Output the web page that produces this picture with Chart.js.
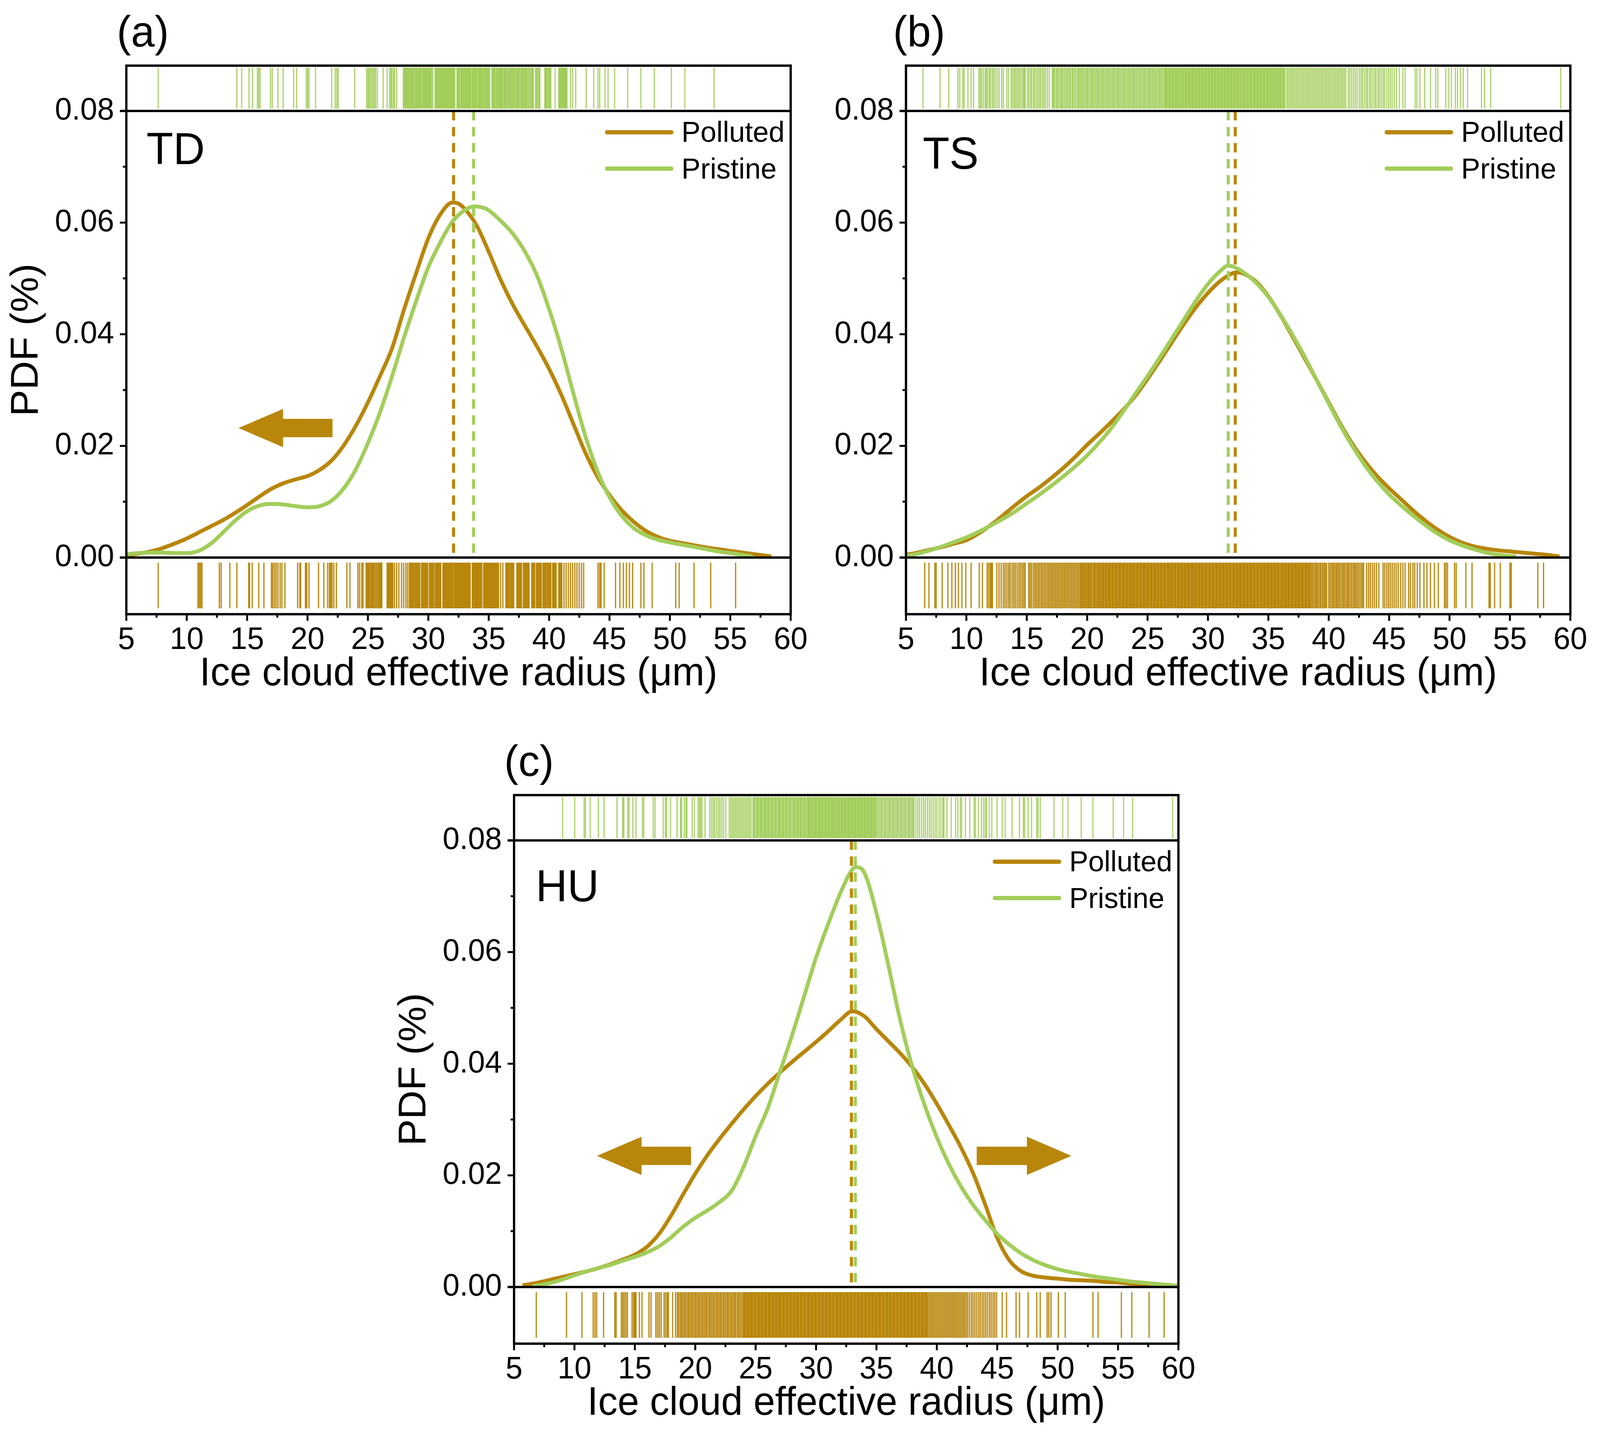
<!DOCTYPE html>
<html><head><meta charset="utf-8">
<script src="https://cdn.jsdelivr.net/npm/chart.js@4.4.0/dist/chart.umd.min.js"></script>
<style>
html,body{margin:0;padding:0;background:#fff;width:100%;height:100%;overflow:hidden;font-family:"Liberation Sans",Arial,sans-serif;}
#root{position:absolute;left:0;top:0;width:4205px;height:3683px;transform-origin:0 0;background:#fff;}
canvas{position:absolute;}
.t{position:absolute;line-height:1;white-space:nowrap;color:#000;z-index:5;}
.lg{position:absolute;height:11px;border-radius:6px;z-index:5;}
</style></head><body>
<div id="root"></div>
<script>
// ---------- tick labels ----------
const xTickValues = [5,10,15,20,25,30,35,40,45,50,55,60];
const xMinorValues = [7.5,12.5,17.5,22.5,27.5,32.5,37.5,42.5,47.5,52.5,57.5];
const yTickValues = [0,0.02,0.04,0.06,0.08];
const yMinorValues = [0.01,0.03,0.05,0.07];
const seriesNames = ['Polluted','Pristine'];
const panelLetters = ['(a)','(b)','(c)'];
const panelTags = ['TD','TS','HU'];

// ---------- (a) TD ----------
const tdPollutedX = [5,6,7,8,9,10,11,12,13,14,15,16,17,18,19,20,21,22,23,24,25,26,27,28,29,30,31,32,32.5,33,34,35,36,37,38,39,40,41,42,43,44,45,46,47,48,49,50,51,52,53,54,55,56,57,58.4];
const tdPollutedY = [0.0004,0.0007,0.0011,0.0017,0.0025,0.0034,0.0045,0.0056,0.0067,0.008,0.0094,0.0109,0.0123,0.0133,0.014,0.0146,0.0157,0.0174,0.0201,0.0236,0.0278,0.0325,0.0375,0.0445,0.051,0.0572,0.0615,0.0636,0.0634,0.0625,0.0595,0.0548,0.0497,0.0453,0.0415,0.0378,0.0338,0.0292,0.024,0.0188,0.0145,0.0112,0.0085,0.0064,0.0048,0.0037,0.003,0.0026,0.0022,0.0018,0.0015,0.0012,0.0009,0.0006,0.0002];
const tdPristineX = [5,6,7,8,9,10,11,12,13,14,15,16,17,18,19,20,21,22,23,24,25,26,27,28,29,30,31,32,33,33.8,34.5,35,36,37,38,39,40,41,42,43,44,45,46,47,48,49,50,51,52,53,54,55,56.8];
const tdPristineY = [0.0006,0.0008,0.0009,0.0009,0.0008,0.0008,0.0012,0.0025,0.0045,0.0066,0.0083,0.0093,0.0096,0.0095,0.0092,0.009,0.0092,0.0102,0.0124,0.0158,0.0205,0.026,0.0325,0.0395,0.046,0.052,0.0565,0.0602,0.0622,0.0629,0.0627,0.0622,0.0603,0.058,0.0548,0.0505,0.0445,0.0375,0.0295,0.0218,0.0155,0.0108,0.0075,0.0053,0.004,0.0032,0.0027,0.0023,0.0019,0.0015,0.0011,0.0008,0.0002];
const tdMeans = [32.09, 33.75];
const tdPristineRug = [7.64,14.15,14.55,15.16,15.45,15.85,15.96,16.07,16.93,17.08,17.55,17.98,18.85,19.1,19.9,20.01,20.12,20.66,22.0,22.29,22.43,22.54,23.91,24.89,25.0,25.1,25.2,25.32,25.43,25.54,25.65,25.79,26.26,26.59,26.8,26.9,27.0,27.13,27.2,27.38,27.93,28.02,28.1,28.16,28.25,28.33,28.4,28.49,28.57,28.66,28.72,28.8,28.9,28.98,29.05,29.13,29.22,29.3,29.37,29.45,29.55,29.62,29.7,29.78,29.86,29.95,30.03,30.1,30.18,30.27,30.38,30.56,30.62,30.68,30.73,30.8,30.86,30.91,30.97,31.03,31.09,31.14,31.2,31.26,31.32,31.38,31.44,31.5,31.55,31.61,31.67,31.73,31.79,31.85,31.9,31.96,32.02,32.08,32.14,32.19,32.37,32.45,32.53,32.6,32.7,32.78,32.85,32.94,33.02,33.1,33.18,33.27,33.35,33.43,33.5,33.6,33.68,33.76,33.85,33.93,34.0,34.1,34.18,34.26,34.35,34.43,34.5,34.6,34.68,34.76,34.85,34.93,35.0,35.08,35.26,35.35,35.44,35.52,35.62,35.7,35.8,35.88,35.97,36.06,36.15,36.25,36.33,36.42,36.52,36.6,36.7,36.78,36.88,36.96,37.05,37.15,37.23,37.33,37.42,37.5,37.6,37.7,37.78,37.88,37.97,38.06,38.15,38.25,38.35,38.45,38.55,38.62,38.7,38.88,38.95,39.05,39.15,39.24,39.64,39.72,39.8,39.9,40.0,40.07,40.14,40.5,40.8,40.88,40.95,41.03,41.1,41.18,41.26,41.33,41.4,41.48,41.77,41.95,42.2,43.07,43.69,44.05,44.19,44.63,44.88,45.42,46.51,47.6,48.71,50.12,51.24,53.66];
const tdPollutedRug = [7.64,10.93,11.04,11.15,11.26,12.7,12.85,13.57,14.15,15.13,15.2,15.42,15.96,16.39,17.01,17.12,17.26,17.4,17.55,17.73,17.88,18.13,19.18,19.36,19.43,19.83,19.93,20.12,20.91,21.35,21.67,21.82,21.92,22.03,22.18,22.39,23.26,23.51,24.17,24.31,24.49,24.6,24.85,24.95,25.05,25.15,25.26,25.36,25.46,25.57,25.68,25.79,25.9,26.0,26.08,26.15,26.59,26.68,26.78,26.87,26.97,27.06,27.2,27.38,27.56,27.78,27.96,28.14,28.29,28.43,28.52,28.61,28.7,28.79,28.9,29.0,29.1,29.2,29.3,29.44,29.53,29.62,29.71,29.8,29.88,29.95,30.09,30.18,30.27,30.36,30.45,30.57,30.67,30.76,30.85,30.94,31.03,31.21,31.3,31.39,31.48,31.57,31.66,31.75,31.84,31.93,32.01,32.12,32.21,32.3,32.39,32.48,32.57,32.66,32.75,32.84,32.93,33.02,33.11,33.2,33.29,33.38,33.46,33.64,33.73,33.82,33.91,34.0,34.09,34.18,34.27,34.35,34.43,34.58,34.67,34.76,34.85,34.93,35.01,35.08,35.17,35.26,35.35,35.44,35.53,35.62,35.71,35.81,35.99,36.17,36.42,36.52,36.62,36.71,36.82,36.9,36.98,37.07,37.33,37.42,37.52,37.62,37.72,37.87,37.97,38.07,38.17,38.26,38.34,38.56,38.65,38.73,38.81,38.95,39.05,39.15,39.25,39.35,39.49,39.59,39.69,39.78,39.89,39.98,40.06,40.14,40.29,40.39,40.49,40.58,40.8,40.9,40.98,41.05,41.23,41.41,41.59,41.77,41.95,42.13,42.31,42.49,42.68,42.86,44.05,44.19,44.3,44.56,45.5,45.86,46.15,46.4,46.65,46.91,47.6,47.85,48.53,50.48,50.77,52.0,53.38,55.44];

// ---------- (b) TS ----------
const tsPollutedX = [5,6,7,8,9,10,11,12,13,14,15,16,17,18,19,20,21,22,23,24,25,26,27,28,29,30,31,32,32.5,33,34,35,36,37,38,39,40,41,42,43,44,45,46,47,48,49,50,51,52,53,54,55,56,57,58,59.1];
const tsPollutedY = [0.0005,0.0009,0.0014,0.0019,0.0025,0.0031,0.0043,0.0058,0.0075,0.0093,0.011,0.0125,0.0142,0.016,0.018,0.0202,0.0222,0.0243,0.0265,0.029,0.032,0.0352,0.0385,0.0418,0.0448,0.0474,0.0495,0.0509,0.0511,0.0508,0.0494,0.0468,0.0434,0.0396,0.0357,0.0318,0.0278,0.0238,0.0202,0.0172,0.0146,0.0124,0.0104,0.0084,0.0066,0.005,0.0037,0.0027,0.002,0.0016,0.0013,0.0011,0.0009,0.0007,0.0005,0.0002];
const tsPristineX = [5,6,7,8,9,10,11,12,13,14,15,16,17,18,19,20,21,22,23,24,25,26,27,28,29,30,31,31.7,32.5,33,34,35,36,37,38,39,40,41,42,43,44,45,46,47,48,49,50,51,52,53,54,55.5];
const tsPristineY = [0.0003,0.0007,0.0013,0.002,0.0028,0.0036,0.0046,0.0057,0.0069,0.0082,0.0097,0.0112,0.0128,0.0145,0.0163,0.0183,0.0206,0.0232,0.0262,0.0294,0.0325,0.0358,0.0392,0.0426,0.046,0.049,0.0513,0.0523,0.0517,0.051,0.0492,0.0467,0.0435,0.0399,0.036,0.0318,0.0276,0.0235,0.0198,0.0165,0.0137,0.0113,0.0093,0.0075,0.0058,0.0043,0.0031,0.0022,0.0015,0.0009,0.0005,0.0002];
const tsMeans = [32.26, 31.68];
const tsPristineRug = [6.41,7.82,8.54,9.3,9.45,9.7,9.81,10.13,10.39,10.6,11.04,11.15,11.26,11.4,11.55,11.65,11.76,11.9,12.0,12.15,12.26,12.4,12.55,12.7,12.92,13.06,13.35,13.5,13.71,13.82,13.95,14.05,14.18,14.3,14.42,14.55,14.68,14.78,14.87,15.05,15.17,15.3,15.41,15.55,15.66,15.8,15.92,16.05,16.16,16.3,16.42,16.55,16.7,16.86,17.11,17.2,17.3,17.42,17.52,17.63,17.75,17.86,17.95,18.07,18.18,18.3,18.4,18.52,18.62,18.75,18.85,18.97,19.08,19.21,19.3,19.41,19.52,19.62,19.73,19.84,19.95,20.05,20.16,20.27,20.38,20.48,20.59,20.7,20.81,20.91,21.02,21.13,21.24,21.34,21.45,21.56,21.67,21.77,21.88,21.99,22.1,22.2,22.31,22.42,22.53,22.63,22.74,22.85,22.96,23.06,23.17,23.28,23.39,23.49,23.6,23.71,23.82,23.92,24.03,24.14,24.25,24.35,24.46,24.57,24.68,24.78,24.89,25.0,25.11,25.21,25.32,25.43,25.54,25.64,25.75,25.86,25.97,26.07,26.18,26.29,26.4,26.47,26.55,26.64,26.74,26.82,26.91,27.01,27.09,27.18,27.28,27.36,27.45,27.55,27.63,27.72,27.82,27.9,27.99,28.09,28.17,28.26,28.36,28.44,28.53,28.63,28.71,28.8,28.9,28.98,29.07,29.17,29.25,29.34,29.44,29.52,29.61,29.71,29.79,29.88,29.98,30.06,30.15,30.25,30.33,30.42,30.52,30.6,30.69,30.79,30.87,30.96,31.06,31.14,31.23,31.33,31.41,31.5,31.6,31.68,31.77,31.87,31.95,32.04,32.14,32.22,32.31,32.41,32.49,32.58,32.68,32.76,32.85,32.95,33.03,33.12,33.22,33.3,33.39,33.49,33.57,33.66,33.76,33.84,33.93,34.03,34.11,34.2,34.3,34.38,34.47,34.57,34.65,34.74,34.84,34.92,35.01,35.11,35.19,35.28,35.38,35.46,35.55,35.65,35.73,35.82,35.92,36.0,36.09,36.19,36.27,36.36,36.5,36.62,36.74,36.86,36.98,37.1,37.22,37.34,37.46,37.58,37.7,37.82,37.94,38.06,38.18,38.3,38.42,38.54,38.66,38.78,38.9,39.02,39.14,39.26,39.38,39.5,39.62,39.74,39.86,39.98,40.1,40.22,40.34,40.46,40.58,40.7,40.82,40.94,41.06,41.18,41.3,41.42,41.62,41.75,41.9,42.05,42.2,42.35,42.53,42.68,42.8,42.95,43.1,43.22,43.38,43.5,43.65,43.8,43.92,44.08,44.2,44.35,44.5,44.62,44.8,44.95,45.1,45.25,45.42,45.6,45.85,46.14,46.32,47.15,47.3,47.55,47.95,48.42,48.85,49.03,49.69,49.94,50.16,50.48,50.66,50.92,51.13,51.49,52.65,52.9,53.41,59.2];
const tsPollutedRug = [6.55,6.9,7.39,7.5,8.0,8.47,8.8,9.09,9.34,9.63,9.95,10.39,11.07,11.33,11.72,11.85,11.98,12.08,12.16,12.52,12.7,12.88,13.06,13.2,13.35,13.5,13.62,13.78,13.92,14.05,14.2,14.35,14.48,14.62,14.75,14.87,15.16,15.28,15.4,15.55,15.68,15.8,15.93,16.05,16.18,16.3,16.43,16.55,16.68,16.8,16.92,17.04,17.16,17.28,17.4,17.52,17.64,17.76,17.88,18.0,18.12,18.24,18.36,18.48,18.6,18.72,18.84,18.96,19.08,19.2,19.32,19.44,19.53,19.62,19.73,19.81,19.92,20.03,20.11,20.2,20.31,20.4,20.52,20.6,20.69,20.8,20.91,20.99,21.08,21.19,21.28,21.37,21.48,21.57,21.66,21.77,21.86,21.95,22.06,22.14,22.23,22.34,22.43,22.52,22.63,22.71,22.8,22.91,23.0,23.09,23.2,23.28,23.37,23.48,23.57,23.66,23.77,23.85,23.94,24.05,24.14,24.23,24.34,24.42,24.51,24.62,24.71,24.8,24.91,24.99,25.08,25.19,25.28,25.37,25.48,25.56,25.65,25.76,25.85,25.94,26.05,26.13,26.22,26.33,26.42,26.51,26.62,26.7,26.79,26.9,26.99,27.08,27.19,27.27,27.36,27.47,27.56,27.65,27.76,27.84,27.93,28.04,28.13,28.22,28.33,28.41,28.5,28.61,28.7,28.79,28.9,28.98,29.07,29.18,29.27,29.36,29.47,29.55,29.64,29.75,29.84,29.93,30.04,30.12,30.21,30.32,30.41,30.5,30.61,30.69,30.78,30.89,30.98,31.07,31.18,31.26,31.35,31.46,31.55,31.64,31.75,31.83,31.92,32.03,32.12,32.21,32.32,32.4,32.49,32.6,32.69,32.78,32.89,32.97,33.06,33.17,33.26,33.35,33.46,33.54,33.63,33.74,33.83,33.92,34.03,34.11,34.2,34.31,34.4,34.49,34.6,34.68,34.77,34.88,34.97,35.06,35.17,35.25,35.34,35.45,35.54,35.63,35.74,35.82,35.91,36.02,36.11,36.2,36.31,36.39,36.48,36.59,36.68,36.77,36.88,36.96,37.05,37.16,37.25,37.34,37.45,37.53,37.62,37.73,37.82,37.91,38.02,38.1,38.19,38.3,38.37,38.44,38.55,38.66,38.78,38.9,39.01,39.12,39.25,39.36,39.48,39.6,39.71,39.82,40.0,40.12,40.25,40.36,40.48,40.6,40.71,40.83,40.95,41.08,41.2,41.31,41.44,41.56,41.67,41.8,41.92,42.05,42.16,42.28,42.4,42.53,42.66,42.78,42.89,43.14,43.3,43.45,43.62,43.78,43.95,44.15,44.5,44.64,44.8,44.95,45.1,45.26,45.42,45.58,45.75,45.96,46.14,46.32,46.61,46.76,46.97,47.12,47.33,47.55,47.88,48.13,48.42,48.75,49.07,49.58,49.7,49.83,50.41,50.55,51.35,51.86,53.27,53.37,53.73,54.2,55.0,55.11,57.31,57.78];

// ---------- (c) HU ----------
const huPollutedX = [5.7,7,8,9,10,11,12,13,14,15,16,17,18,19,20,21,22,23,24,25,26,27,28,29,30,31,32,33,34,35,36,37,38,39,40,41,42,43,44,45,46,47,48,49,50,51,52,53,54,55,56,57,58,60];
const huPollutedY = [0.0003,0.0008,0.0013,0.0018,0.0023,0.0028,0.0034,0.0041,0.0049,0.0058,0.0072,0.0095,0.0128,0.0166,0.0203,0.0236,0.0265,0.0292,0.0318,0.0342,0.0364,0.0384,0.0403,0.0421,0.0439,0.0458,0.0478,0.0494,0.0485,0.0462,0.044,0.0418,0.0393,0.0363,0.0328,0.029,0.025,0.0204,0.0148,0.0088,0.0048,0.0028,0.002,0.0017,0.0015,0.0013,0.0012,0.0011,0.0009,0.0008,0.0006,0.0004,0.0003,0.0001];
const huPristineX = [6.5,7.5,8.5,10,11,12,13,14,15,16,17,18,19,20,21,22,23,24,25,26,27,28,29,30,31,32,33,33.3,34,35,36,37,38,39,40,41,42,43,44,45,46,47,48,49,50,51,52,53,54,55,56,57,58,59,60];
const huPristineY = [0.0001,0.0005,0.001,0.0021,0.0028,0.0034,0.004,0.0047,0.0054,0.0062,0.0073,0.0089,0.0108,0.0124,0.0137,0.0152,0.0172,0.0215,0.027,0.032,0.0385,0.045,0.052,0.059,0.065,0.0705,0.0748,0.0752,0.0742,0.067,0.0575,0.0475,0.0392,0.0325,0.0268,0.022,0.018,0.0147,0.012,0.0095,0.0076,0.006,0.0048,0.0039,0.0032,0.0027,0.0023,0.0019,0.0016,0.0013,0.001,0.0008,0.0006,0.0004,0.0002];
const huMeans = [32.93, 33.25];
const huPristineRug = [9.02,10.02,10.8,10.91,11.3,11.98,12.45,13.52,13.99,14.09,14.41,14.52,14.84,15.09,15.63,15.74,16.52,16.67,17.35,17.53,17.63,17.95,18.49,18.78,18.88,19.1,19.24,19.31,19.74,19.92,20.24,20.35,20.45,20.56,20.81,21.21,21.36,21.5,21.62,21.78,21.92,22.05,22.2,22.35,22.53,22.82,22.94,23.06,23.18,23.3,23.42,23.54,23.66,23.78,23.9,24.02,24.14,24.26,24.38,24.5,24.62,24.78,24.87,24.97,25.08,25.17,25.27,25.38,25.47,25.57,25.68,25.77,25.87,25.98,26.07,26.17,26.28,26.37,26.47,26.58,26.67,26.77,26.88,26.97,27.07,27.18,27.27,27.37,27.48,27.57,27.67,27.78,27.87,27.97,28.08,28.17,28.27,28.38,28.47,28.57,28.68,28.77,28.87,28.98,29.07,29.17,29.28,29.36,29.44,29.53,29.63,29.71,29.8,29.9,29.98,30.07,30.17,30.25,30.34,30.44,30.52,30.61,30.71,30.79,30.88,30.98,31.06,31.15,31.25,31.33,31.42,31.52,31.6,31.69,31.79,31.87,31.96,32.06,32.14,32.23,32.33,32.41,32.5,32.6,32.68,32.77,32.87,32.95,33.04,33.14,33.22,33.31,33.41,33.49,33.58,33.68,33.76,33.85,33.95,34.03,34.12,34.22,34.3,34.39,34.49,34.57,34.66,34.76,34.84,34.93,35.03,35.14,35.26,35.37,35.47,35.59,35.7,35.8,35.92,36.03,36.13,36.25,36.36,36.46,36.58,36.69,36.79,36.91,37.02,37.12,37.24,37.35,37.45,37.57,37.68,37.78,37.9,38.01,38.1,38.26,38.42,38.57,38.74,38.9,39.05,39.22,39.38,39.53,39.7,39.86,40.01,40.18,40.34,40.5,40.59,40.84,41.19,41.55,41.73,41.94,42.05,42.37,42.73,43.09,43.2,43.45,43.7,43.88,44.02,44.13,44.34,44.55,44.98,45.41,45.66,46.23,46.84,47.16,47.27,47.56,47.84,48.27,48.38,48.56,49.7,50.42,50.85,51.95,52.92,54.6,55.46,56.21,59.53];
const huPollutedRug = [6.84,9.34,10.62,11.55,11.7,11.84,12.41,13.34,13.45,13.88,14.0,14.12,14.25,14.38,14.77,14.9,15.0,15.09,15.38,15.59,16.17,16.34,16.74,16.88,17.02,17.17,17.42,17.55,17.68,17.78,18.13,18.38,18.53,18.64,18.77,18.88,19.0,19.12,19.23,19.36,19.47,19.59,19.71,19.82,19.95,20.06,20.18,20.3,20.41,20.54,20.65,20.77,20.89,21.0,21.13,21.24,21.36,21.48,21.59,21.72,21.83,21.95,22.07,22.18,22.31,22.42,22.54,22.66,22.77,22.9,23.01,23.13,23.25,23.36,23.49,23.6,23.72,23.84,23.96,24.05,24.15,24.26,24.35,24.44,24.55,24.64,24.74,24.85,24.94,25.03,25.14,25.23,25.33,25.44,25.53,25.62,25.73,25.82,25.92,26.03,26.12,26.21,26.32,26.41,26.51,26.62,26.71,26.8,26.91,27.0,27.1,27.21,27.3,27.39,27.5,27.59,27.69,27.8,27.89,27.98,28.09,28.18,28.28,28.39,28.48,28.57,28.68,28.77,28.87,28.98,29.07,29.16,29.27,29.36,29.46,29.57,29.66,29.75,29.86,29.95,30.05,30.16,30.25,30.34,30.45,30.54,30.64,30.75,30.84,30.93,31.04,31.13,31.23,31.34,31.43,31.52,31.63,31.72,31.82,31.93,32.02,32.11,32.22,32.31,32.41,32.52,32.61,32.7,32.81,32.9,33.0,33.11,33.2,33.29,33.4,33.49,33.59,33.7,33.79,33.88,33.99,34.08,34.18,34.29,34.38,34.47,34.58,34.67,34.77,34.88,34.97,35.06,35.17,35.26,35.36,35.47,35.56,35.65,35.76,35.85,35.95,36.06,36.15,36.24,36.35,36.44,36.54,36.65,36.74,36.83,36.94,37.03,37.13,37.24,37.33,37.42,37.53,37.62,37.72,37.83,37.92,38.01,38.12,38.21,38.31,38.42,38.51,38.6,38.71,38.8,38.9,39.01,39.1,39.19,39.3,39.42,39.54,39.66,39.78,39.9,40.02,40.14,40.26,40.38,40.5,40.62,40.74,40.86,40.98,41.1,41.22,41.34,41.46,41.58,41.7,41.82,41.94,42.06,42.18,42.3,42.42,42.55,42.7,42.86,43.0,43.15,43.3,43.46,43.6,43.76,43.9,44.05,44.2,44.36,44.5,44.66,44.8,44.95,45.41,45.77,46.56,46.84,47.56,48.27,48.56,49.13,49.27,49.45,50.06,50.63,52.92,53.35,55.28,56.14,57.57,58.82];

// arrows: [tail x, tip x, y]
const tdArrows = [[22.07, 14.29, 0.0232]];
const tsArrows = [];
const huArrows = [[19.65, 11.87, 0.0235], [43.3, 51.14, 0.0235]];

// ---------- styling / layout ----------
const POL = '#B8860B', PRI = '#A2CD5A';
const FONT = '"Liberation Sans", Arial, sans-serif';
const PAGE_W = 4205, PAGE_H = 3683;
const CW = 2200, CH = 1800;
const PAD_TOP = 168, PAD_RIGHT = 122, YAXIS_W = 332, XAXIS_H = 228;
const Y_MIN = -0.010149, Y_MAX = 0.088119;
const RUG_TOP = [0.08042, 0.08777], RUG_BOT = [-0.00091, -0.0091];

const root = document.getElementById('root');
(function fit() {
  const vw = window.innerWidth || PAGE_W, vh = window.innerHeight || PAGE_H;
  const sx = vw / PAGE_W, sy = vh / PAGE_H;
  if (Math.abs(sx - 1) > 0.002 || Math.abs(sy - 1) > 0.002) {
    root.style.transform = 'scale(' + sx + ',' + sy + ')';
  }
})();

function xy(xs, ys) { return xs.map((x, i) => ({x: x, y: ys[i]})); }
function rug(vals, lo, hi) {
  const out = [];
  vals.forEach(v => { out.push({x: v, y: lo}, {x: v, y: hi}, {x: v, y: null}); });
  return out;
}
function meanLine(m) { return [{x: m, y: 0.08}, {x: m, y: 0}]; }

const panels = [
  {left: 0, top: 0, letter: panelLetters[0], letterPos: [307, 25], tag: panelTags[0], tagPos: [385, 323], yTitle: true,
   pol: xy(tdPollutedX, tdPollutedY), pri: xy(tdPristineX, tdPristineY), means: tdMeans, polRug: tdPollutedRug, priRug: tdPristineRug, arrows: tdArrows},
  {left: 2049, top: 0, letter: panelLetters[1], letterPos: [2347, 25], tag: panelTags[1], tagPos: [2425, 335], yTitle: false,
   pol: xy(tsPollutedX, tsPollutedY), pri: xy(tsPristineX, tsPristineY), means: tsMeans, polRug: tsPollutedRug, priRug: tsPristineRug, arrows: tsArrows},
  {left: 1019, top: 1867, letter: panelLetters[2], letterPos: [1325, 1892], tag: panelTags[2], tagPos: [1408, 2210], yTitle: true,
   pol: xy(huPollutedX, huPollutedY), pri: xy(huPristineX, huPristineY), means: huMeans, polRug: huPollutedRug, priRug: huPristineRug, arrows: huArrows}
];

function addText(txt, x, y, size) {
  const d = document.createElement('div');
  d.className = 't'; d.textContent = txt;
  d.style.left = x + 'px'; d.style.top = y + 'px'; d.style.fontSize = size + 'px';
  root.appendChild(d);
}
function addLegendLine(x, yc, color) {
  const d = document.createElement('div');
  d.className = 'lg';
  d.style.left = x + 'px'; d.style.top = (yc - 5.5) + 'px'; d.style.width = '180px'; d.style.background = color;
  root.appendChild(d);
}

function framePlugin(p) {
  return {
    id: 'frame',
    afterDatasetsDraw(chart) {
      const {ctx, chartArea: a, scales: {x, y}} = chart;
      ctx.save();
      ctx.fillStyle = POL;
      p.arrows.forEach(ar => {
        const tail = x.getPixelForValue(ar[0]), tip = x.getPixelForValue(ar[1]), yc = y.getPixelForValue(ar[2]);
        const dir = tip > tail ? 1 : -1;
        const hb = tip - dir * 117;
        ctx.beginPath();
        ctx.moveTo(tail, yc - 23.5); ctx.lineTo(hb, yc - 23.5); ctx.lineTo(hb, yc - 49);
        ctx.lineTo(tip, yc); ctx.lineTo(hb, yc + 49); ctx.lineTo(hb, yc + 23.5); ctx.lineTo(tail, yc + 23.5);
        ctx.closePath(); ctx.fill();
      });
      ctx.strokeStyle = '#000'; ctx.lineWidth = 6;
      ctx.beginPath();
      ctx.rect(a.left, a.top, a.right - a.left, a.bottom - a.top);
      const y0 = y.getPixelForValue(0), y8 = y.getPixelForValue(0.08);
      ctx.moveTo(a.left - 17, y0); ctx.lineTo(a.right, y0);
      ctx.moveTo(a.left - 17, y8); ctx.lineTo(a.right, y8);
      ctx.stroke();
      ctx.lineWidth = 5;
      ctx.beginPath();
      yTickValues.forEach(v => { const py = y.getPixelForValue(v); ctx.moveTo(a.left - 17, py); ctx.lineTo(a.left, py); });
      yMinorValues.forEach(v => { const py = y.getPixelForValue(v); ctx.moveTo(a.left - 9, py); ctx.lineTo(a.left, py); });
      xTickValues.forEach(v => { const px = x.getPixelForValue(v); ctx.moveTo(px, a.bottom); ctx.lineTo(px, a.bottom + 17); });
      xMinorValues.forEach(v => { const px = x.getPixelForValue(v); ctx.moveTo(px, a.bottom); ctx.lineTo(px, a.bottom + 9); });
      ctx.stroke();
      ctx.restore();
    }
  };
}

panels.forEach(p => {
  const cv = document.createElement('canvas');
  cv.width = CW; cv.height = CH;
  cv.style.left = p.left + 'px'; cv.style.top = p.top + 'px';
  cv.style.width = CW + 'px'; cv.style.height = CH + 'px';
  root.appendChild(cv);

  const datasets = [
    {label: 'Polluted mean', data: meanLine(p.means[0]), borderColor: POL, borderWidth: 8, borderDash: [24, 17], pointRadius: 0, tension: 0},
    {label: 'Pristine mean', data: meanLine(p.means[1]), borderColor: PRI, borderWidth: 8, borderDash: [24, 17], pointRadius: 0, tension: 0},
    {label: seriesNames[1], data: p.pri, borderColor: PRI, borderWidth: 10, pointRadius: 0, cubicInterpolationMode: 'monotone', borderJoinStyle: 'round'},
    {label: seriesNames[0], data: p.pol, borderColor: POL, borderWidth: 10, pointRadius: 0, cubicInterpolationMode: 'monotone', borderJoinStyle: 'round'},
    {label: 'Pristine rug', data: rug(p.priRug, RUG_TOP[0], RUG_TOP[1]), borderColor: PRI, borderWidth: 2.8, pointRadius: 0, tension: 0, spanGaps: false},
    {label: 'Polluted rug', data: rug(p.polRug, RUG_BOT[0], RUG_BOT[1]), borderColor: POL, borderWidth: 3.2, pointRadius: 0, tension: 0, spanGaps: false}
  ];

  new Chart(cv.getContext('2d'), {
    type: 'line',
    data: {datasets: datasets},
    options: {
      responsive: false, devicePixelRatio: 1, animation: false, events: [],
      layout: {padding: {top: PAD_TOP, right: PAD_RIGHT, left: 0, bottom: 0}},
      plugins: {legend: {display: false}, tooltip: {enabled: false}},
      scales: {
        x: {
          type: 'linear', min: 5, max: 60,
          afterBuildTicks: s => { s.ticks = xTickValues.map(v => ({value: v})); },
          afterFit: s => { s.height = XAXIS_H; },
          grid: {display: false, drawTicks: false}, border: {display: false},
          ticks: {color: '#000', font: {family: FONT, size: 80}, padding: 19, maxRotation: 0, autoSkip: false, callback: v => String(v)},
          title: {display: true, text: 'Ice cloud effective radius (μm)', color: '#000', font: {family: FONT, size: 102}, padding: {top: 0, bottom: 13}}
        },
        y: {
          type: 'linear', min: Y_MIN, max: Y_MAX,
          afterBuildTicks: s => { s.ticks = yTickValues.map(v => ({value: v})); },
          afterFit: s => { s.width = YAXIS_W; },
          grid: {display: false, drawTicks: false}, border: {display: false},
          ticks: {color: '#000', font: {family: FONT, size: 80}, padding: 32, autoSkip: false, callback: v => Number(v).toFixed(2)},
          title: {display: p.yTitle, text: 'PDF (%)', color: '#000', font: {family: FONT, size: 102}, padding: {top: 10, bottom: 0}}
        }
      }
    },
    plugins: [framePlugin(p)]
  });

  addText(p.letter, p.letterPos[0], p.letterPos[1], 112);
  addText(p.tag, p.tagPos[0], p.tagPos[1], 115);
  const R = p.left + CW - PAD_RIGHT, T = p.top + PAD_TOP;
  addLegendLine(R - 488, T + 170, POL);
  addLegendLine(R - 488, T + 263, PRI);
  addText(seriesNames[0], R - 287, T + 131.5, 75);
  addText(seriesNames[1], R - 287, T + 225.5, 75);
});
</script>
</body></html>
